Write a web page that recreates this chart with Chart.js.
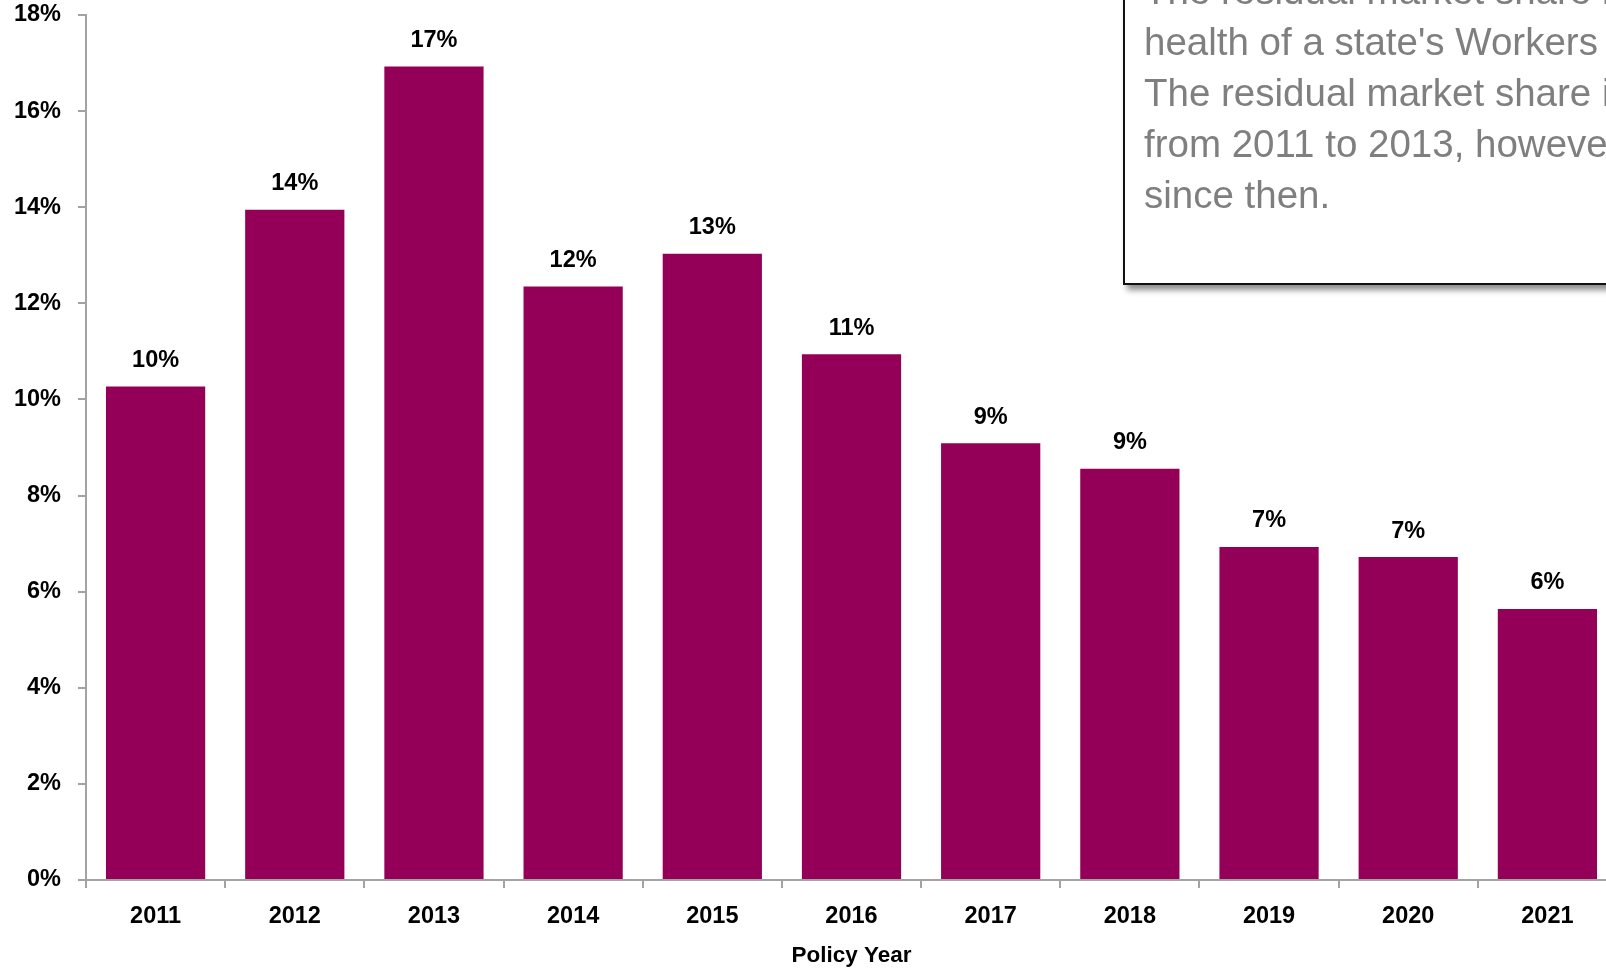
<!DOCTYPE html>
<html>
<head>
<meta charset="utf-8">
<script src="https://cdn.jsdelivr.net/npm/chart.js@4/dist/chart.umd.min.js"></script>
<style>
  html, body { margin: 0; padding: 0; background: #fff; overflow: hidden; width: 1606px; height: 970px; }
  #wrap { position: absolute; left: 0; top: 0; width: 1640px; height: 970px; }
  #note {
    position: absolute; left: 1123px; top: -60px; width: 620px; height: 341px;
    border: 2px solid #111; background: #fff;
    box-shadow: 4px 5px 6px rgba(0,0,0,0.45);
    box-sizing: content-box;
  }
  #note p {
    margin: 0; padding: 23px 0 0 19px;
    font-family: "Liberation Sans", Arial, sans-serif; font-size: 38.5px; line-height: 51px;
    color: #7f7f7f; white-space: nowrap;
  }
</style>
</head>
<body>
<div id="wrap"><canvas id="chart" width="1640" height="970"></canvas></div>
<div id="note"><p>The residual market share is one indicator of the<br>health of a state's Workers Compensation system.<br>The residual market share increased<br>from 2011 to 2013, however it has decreased<br>since then.</p></div>
<script>
const years = ['2011', '2012', '2013', '2014', '2015', '2016', '2017', '2018', '2019', '2020', '2021'];
const shareValues = [10.27, 13.95, 16.93, 12.35, 13.03, 10.94, 9.09, 8.56, 6.93, 6.72, 5.64];
const yTicks = { min: 0, max: 18, step: 2 };

const barColor = '#940058';
const axisColor = '#a3a3a3';
const labelFont = { family: '"Liberation Sans", Arial, sans-serif', size: 23.5, weight: 'bold' };
const titleFont = { family: '"Liberation Sans", Arial, sans-serif', size: 22.5, weight: 'bold' };

// bar value labels, rounded like the original ("10%")
const valueLabels = {
    id: 'valueLabels',
    afterDatasetsDraw(chart) {
        const ctx = chart.ctx;
        const meta = chart.getDatasetMeta(0);
        ctx.save();
        ctx.font = 'bold 23.5px "Liberation Sans", Arial, sans-serif';
        ctx.fillStyle = '#000';
        ctx.textAlign = 'center';
        ctx.textBaseline = 'alphabetic';
        meta.data.forEach((bar, i) => {
            ctx.fillText(Math.round(shareValues[i]) + '%', bar.x, bar.y - 19.5);
        });
        ctx.restore();
    }
};

new Chart(document.getElementById('chart'), {
    type: 'bar',
    data: {
        labels: years,
        datasets: [{
            data: shareValues,
            backgroundColor: barColor,
            borderWidth: 0,
            barPercentage: 0.713,
            categoryPercentage: 1.0
        }]
    },
    plugins: [valueLabels],
    options: {
        responsive: false,
        animation: false,
        devicePixelRatio: 1,
        layout: { padding: { top: 15, right: 23, bottom: 0, left: 0 } },
        plugins: {
            legend: { display: false },
            tooltip: { enabled: false }
        },
        scales: {
            x: {
                afterFit(scale) { scale.height = 90; },
                grid: { display: true, drawOnChartArea: false, drawTicks: true, tickLength: 8, offset: true, color: axisColor, lineWidth: 2 },
                border: { display: true, color: axisColor, width: 2 },
                ticks: { color: '#000', font: labelFont, padding: 14, maxRotation: 0 },
                title: { display: true, text: 'Policy Year', color: '#000', font: titleFont, padding: { top: 10, bottom: 1 } }
            },
            y: {
                min: yTicks.min,
                max: yTicks.max,
                afterFit(scale) {
                    scale.width = 86;
                    scale.paddingTop = 0;
                    scale.paddingBottom = 0;
                },
                grid: { display: true, drawOnChartArea: false, drawTicks: true, tickLength: 8, color: axisColor, lineWidth: 2 },
                border: { display: true, color: axisColor, width: 2 },
                ticks: {
                    stepSize: yTicks.step,
                    color: '#000',
                    font: labelFont,
                    padding: 17,
                    callback: v => v + '%'
                }
            }
        }
    }
});
</script>
</body>
</html>
